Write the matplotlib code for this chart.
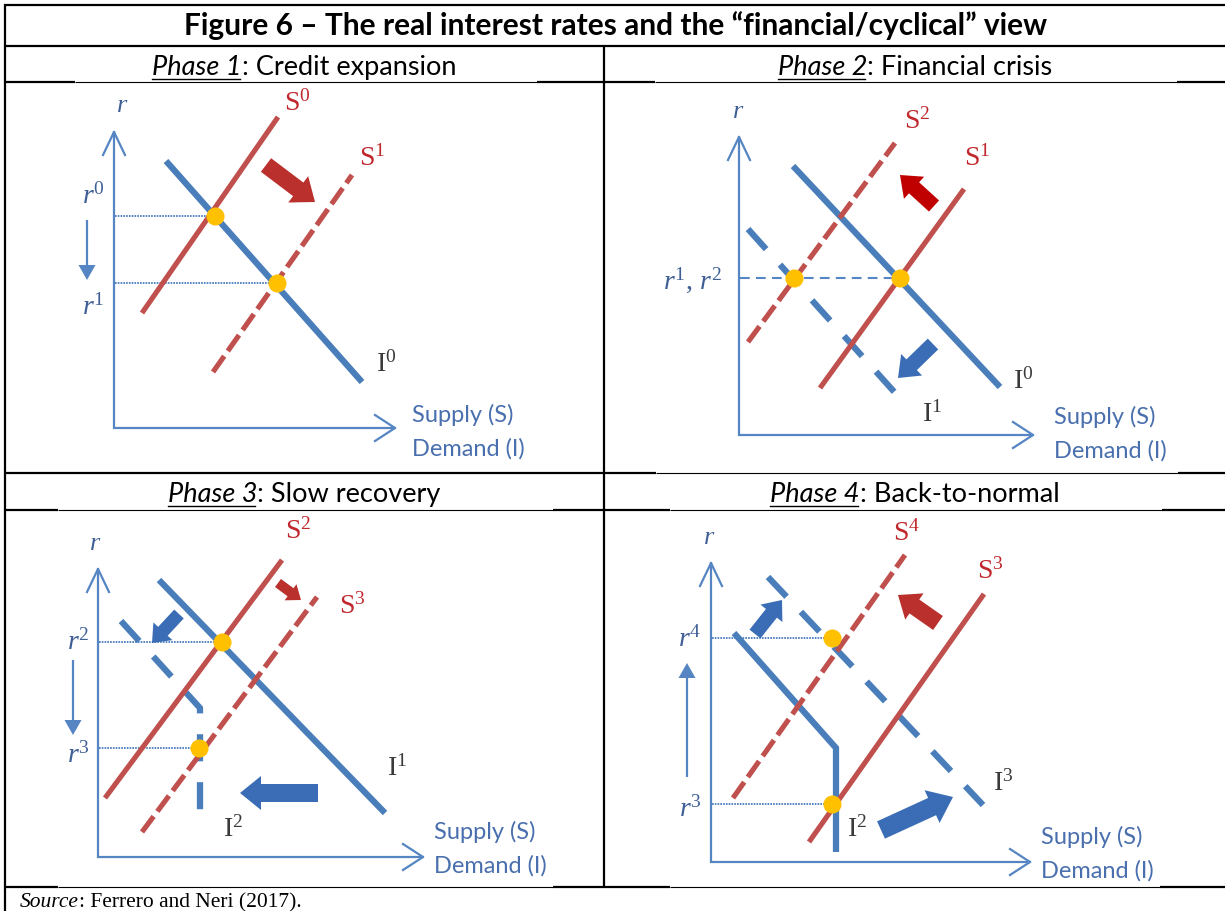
import matplotlib
matplotlib.use("Agg")
import matplotlib.pyplot as plt
from matplotlib.patches import FancyArrow

plt.rcParams["lines.scale_dashes"] = False
plt.rcParams["mathtext.fontset"] = "custom"
plt.rcParams["mathtext.rm"] = "Liberation Serif"
plt.rcParams["mathtext.it"] = "Liberation Serif:italic"
plt.rcParams["font.family"] = ["Lato", "DejaVu Sans"]

W, H = 1225, 911

TITLE = "Figure 6 \u2013 The real interest rates and the \u201cfinancial/cyclical\u201d view"
PHASES = ["Phase 1", "Phase 2", "Phase 3", "Phase 4"]
PHASE_NAMES = ["Credit expansion", "Financial crisis", "Slow recovery", "Back-to-normal"]
SOURCE_LABEL = "Source"
SOURCE_TEXT = ": Ferrero and Neri (2017)."
X_LABEL = ["Supply (S)", "Demand (I)"]

# curves in (q, r), measured from each panel's axis origin
# phase 1
P1_S0 = [(28, 115), (164, 311)]
P1_S1 = [(99, 56), (238, 253)]
P1_I0 = [(52, 267), (248, 46)]
P1_EQ = [(101, 212), (163, 145)]
P1_RATES = [r"$r^{0}$", r"$r^{1}$"]
# phase 2
P2_S2 = [(9, 93), (156, 292)]
P2_S1 = [(81, 47), (225, 246)]
P2_I0 = [(54, 269), (261, 48)]
P2_I1 = [(9, 206), (158, 40)]
P2_EQ = [(55, 157), (161, 157)]
P2_RATES = [r"$r^{1},\, r^{2}$"]
# phase 3
P3_S2 = [(7, 59), (184, 297)]
P3_S3 = [(44, 25), (219, 260)]
P3_I1 = [(61, 277), (287, 44)]
P3_I2 = [(23, 236), (102, 149), (102, 29)]
P3_EQ = [(124, 215), (101, 109)]
P3_RATES = [r"$r^{2}$", r"$r^{3}$"]
# phase 4
P4_S4 = [(22, 64), (194, 307)]
P4_S3 = [(98, 20), (273, 268)]
P4_I2 = [(23, 229), (125, 114), (125, 10)]
P4_I3 = [(57, 285), (272, 57)]
P4_EQ = [(121, 224), (121, 58)]
P4_RATES = [r"$r^{4}$", r"$r^{3}$"]

BLUE = "#4A7EBB"
AXIS = "#5585C2"
RED = "#C0504D"
DOT = "#FFC000"
TXT_BLUE = "#4A6FAE"
R_LAB = "#3F5F95"
S_LAB = "#C0282D"
I_LAB = "#3A3A3A"
ARROW_BLUE = "#3A6DB5"
ARROW_RED = "#B9302C"

fig = plt.figure(figsize=(W / 100, H / 100), dpi=100)
bg = fig.add_axes([0, 0, 1, 1])
bg.set_xlim(0, W)
bg.set_ylim(H, 0)
bg.axis("off")
rend = fig.canvas.get_renderer()


def hline(y, x0, x1, lw):
    bg.plot([x0, x1], [y, y], color="black", lw=lw, solid_capstyle="butt")


THICK, THIN = 1.6, 0.8
# table borders
hline(5, 4, W, THICK)
hline(46, 4, W, THICK)
for y, segs in [(82, [(4, 75, THICK), (75, 537, THIN), (537, 655, THICK), (655, 1177, THIN), (1177, W, THICK)]),
                (473, [(4, 656, THICK), (656, 1178, THIN), (1178, W, THICK)]),
                (510, [(4, 58, THICK), (58, 553, THIN), (553, 670, THICK), (670, 1162, THIN), (1162, W, THICK)]),
                (887, [(4, 58, THICK), (58, 553, THIN), (553, 670, THICK), (670, 1160, THIN), (1160, W, THICK)])]:
    for x0, x1, lw in segs:
        hline(y, x0, x1, lw)
bg.plot([5, 5], [4, H], color="black", lw=THICK, solid_capstyle="butt")
bg.plot([604, 604], [46, 888], color="black", lw=THICK, solid_capstyle="butt")

bg.text(616, 35, TITLE, fontsize=21.5, fontweight="bold", ha="center", va="baseline")


def header(cx, base, phase, rest):
    t1 = bg.text(0, base, phase, fontsize=19.5, style="italic", va="baseline")
    t2 = bg.text(0, base, ": " + rest, fontsize=19.5, va="baseline")
    w1 = t1.get_window_extent(rend).width
    w2 = t2.get_window_extent(rend).width
    x0 = cx - (w1 + w2) / 2
    t1.set_x(x0)
    t2.set_x(x0 + w1)
    bg.plot([x0, x0 + w1 - 2], [base + 4, base + 4], color="black", lw=1)


header(304, 75, PHASES[0], PHASE_NAMES[0])
header(915, 75, PHASES[1], PHASE_NAMES[1])
header(304, 502, PHASES[2], PHASE_NAMES[2])
header(915, 502, PHASES[3], PHASE_NAMES[3])

ts = bg.text(20, 907, SOURCE_LABEL, family="Liberation Serif", style="italic", fontsize=15.5, va="baseline")
ws = ts.get_window_extent(rend).width
bg.text(20 + ws, 907, SOURCE_TEXT, family="Liberation Serif", fontsize=15.5, va="baseline")


def panel(cell, origin):
    # cell = (left, top, right, bottom) in px; one data unit = one pixel
    l, t, r, b = cell
    ox, oy = origin
    ax = fig.add_axes([l / W, 1 - b / H, (r - l) / W, (b - t) / H])
    ax.set_xlim(l - ox, r - ox)
    ax.set_ylim(oy - b, oy - t)
    ax.axis("off")
    ax.patch.set_alpha(0)
    return ax


def axes_frame(ax, qmax, rmax, xlab_q, xlab_r, rlab_q):
    ax.plot([0, 0, qmax], [rmax, 0, 0], color=AXIS, lw=1.6, solid_joinstyle="miter")
    ax.plot([-11, 0, 11], [rmax - 23, rmax, rmax - 23], color=AXIS, lw=1.6)
    ax.plot([qmax - 20, qmax, qmax - 20], [13, 0, -13], color=AXIS, lw=1.6)
    ax.text(xlab_q, xlab_r, X_LABEL[0], color=TXT_BLUE, fontsize=17, va="center")
    ax.text(xlab_q, xlab_r - 34, X_LABEL[1], color=TXT_BLUE, fontsize=17, va="center")
    ax.text(rlab_q, rmax + 27, r"$r$", color=R_LAB, fontsize=19, ha="center", va="center")


def curve(ax, pts, color, lw, dash=None):
    q = [p[0] for p in pts]
    r = [p[1] for p in pts]
    ls = "-" if dash is None else (0, dash)
    ax.plot(q, r, color=color, lw=lw, ls=ls, solid_capstyle="butt",
            dash_capstyle="butt", solid_joinstyle="miter", zorder=3)


def eq_points(ax, pts, dotted=True):
    for q, r in pts:
        if dotted:
            ax.plot([1, q], [r, r], color=AXIS, lw=1.4, ls=(0, (1.2, 0.8)), zorder=2)
        ax.plot(q, r, "o", ms=13, color=DOT, mec="none", zorder=6)


def fat(ax, tail, tip, w, hw, hl, color):
    ax.add_patch(FancyArrow(tail[0], tail[1], tip[0] - tail[0], tip[1] - tail[1],
                            width=w, head_width=hw, head_length=hl,
                            length_includes_head=True, color=color, lw=0, zorder=5))


def thin(ax, q, r0, r1):
    ax.add_patch(FancyArrow(q, r0, 0, r1 - r0, width=2.2, head_width=17, head_length=15,
                            length_includes_head=True, color=AXIS, lw=0, zorder=4))


def lab(ax, q, r, s, color, size=20):
    ax.text(q, r, s, color=color, fontsize=size, ha="center", va="center")


RED_DASH = (14, 4.5)
BLUE_DASH = (19.5, 15)
RSIZE = 20

# ---- phase 1
ax = panel((5, 82, 604, 473), (114, 428))
axes_frame(ax, 281, 296, 298, 13, 8)
curve(ax, P1_I0, BLUE, 4.5)
curve(ax, P1_S0, RED, 3.7)
curve(ax, P1_S1, RED, 3.7, RED_DASH)
eq_points(ax, P1_EQ)
fat(ax, (152, 263), (201, 226), 17, 33, 21, ARROW_RED)
thin(ax, -27, 208, 148)
lab(ax, -21, 233, P1_RATES[0], R_LAB, RSIZE)
lab(ax, -21, 122, P1_RATES[1], R_LAB, RSIZE)
lab(ax, 183, 326, r"$\mathrm{S}^{0}$", S_LAB)
lab(ax, 258, 271, r"$\mathrm{S}^{1}$", S_LAB)
lab(ax, 272, 65, r"$\mathrm{I}^{0}$", I_LAB)

# ---- phase 2
ax = panel((604, 82, W, 473), (739, 435))
axes_frame(ax, 294, 298, 315, 18, -1)
curve(ax, P2_I0, BLUE, 4.5)
curve(ax, P2_I1, BLUE, 4.5, BLUE_DASH)
curve(ax, P2_S1, RED, 3.7)
curve(ax, P2_S2, RED, 3.7, RED_DASH)
ax.plot([1, P2_EQ[1][0]], [P2_EQ[0][1]] * 2, color=AXIS, lw=1.5, ls=(0, (7, 4.5)), zorder=2)
eq_points(ax, P2_EQ, dotted=False)
fat(ax, (195, 229), (161, 260), 15, 30, 19, "#C00000")
fat(ax, (194, 91), (159, 57), 15, 30, 19, ARROW_BLUE)
lab(ax, -46, 155, P2_RATES[0], R_LAB, RSIZE)
lab(ax, 178, 315, r"$\mathrm{S}^{2}$", S_LAB)
lab(ax, 238, 278, r"$\mathrm{S}^{1}$", S_LAB)
lab(ax, 284, 55, r"$\mathrm{I}^{0}$", I_LAB)
lab(ax, 193, 22, r"$\mathrm{I}^{1}$", I_LAB)

# ---- phase 3
ax = panel((5, 510, 604, 887), (98, 857))
axes_frame(ax, 325, 288, 336, 25, -3)
curve(ax, P3_I1, BLUE, 4.5)
curve(ax, P3_I2, BLUE, 4.5, BLUE_DASH)
curve(ax, P3_S2, RED, 3.7)
curve(ax, P3_S3, RED, 3.7, RED_DASH)
eq_points(ax, P3_EQ)
fat(ax, (180, 274), (203, 257), 10, 20, 13, ARROW_RED)
fat(ax, (81, 243), (54, 214), 13, 26, 16, ARROW_BLUE)
fat(ax, (220, 64), (142, 64), 18, 34, 21, ARROW_BLUE)
thin(ax, -25, 197, 122)
lab(ax, -20, 216, P3_RATES[0], R_LAB, RSIZE)
lab(ax, -20, 103, P3_RATES[1], R_LAB, RSIZE)
lab(ax, 200, 327, r"$\mathrm{S}^{2}$", S_LAB)
lab(ax, 254, 252, r"$\mathrm{S}^{3}$", S_LAB)
lab(ax, 299, 90, r"$\mathrm{I}^{1}$", I_LAB)
lab(ax, 135, 29, r"$\mathrm{I}^{2}$", I_LAB)

# ---- phase 4
ax = panel((604, 510, W, 887), (711, 862))
axes_frame(ax, 319, 299, 330, 25, -2)
curve(ax, P4_I2, BLUE, 4.5)
curve(ax, P4_I3, BLUE, 4.5, BLUE_DASH)
curve(ax, P4_S3, RED, 3.7)
curve(ax, P4_S4, RED, 3.7, RED_DASH)
eq_points(ax, P4_EQ)
fat(ax, (227, 239), (187, 267), 17, 32, 20, ARROW_RED)
fat(ax, (44, 228), (71, 262), 14, 28, 17, ARROW_BLUE)
fat(ax, (170, 32), (242, 65), 19, 36, 23, ARROW_BLUE)
thin(ax, -24, 85, 199)
lab(ax, -21, 224, P4_RATES[0], R_LAB, RSIZE)
lab(ax, -21, 54, P4_RATES[1], R_LAB, RSIZE)
lab(ax, 196, 330, r"$\mathrm{S}^{4}$", S_LAB)
lab(ax, 279, 292, r"$\mathrm{S}^{3}$", S_LAB)
lab(ax, 292, 80, r"$\mathrm{I}^{3}$", I_LAB)
lab(ax, 146, 34, r"$\mathrm{I}^{2}$", I_LAB)

fig.savefig("out.png", dpi=100)
